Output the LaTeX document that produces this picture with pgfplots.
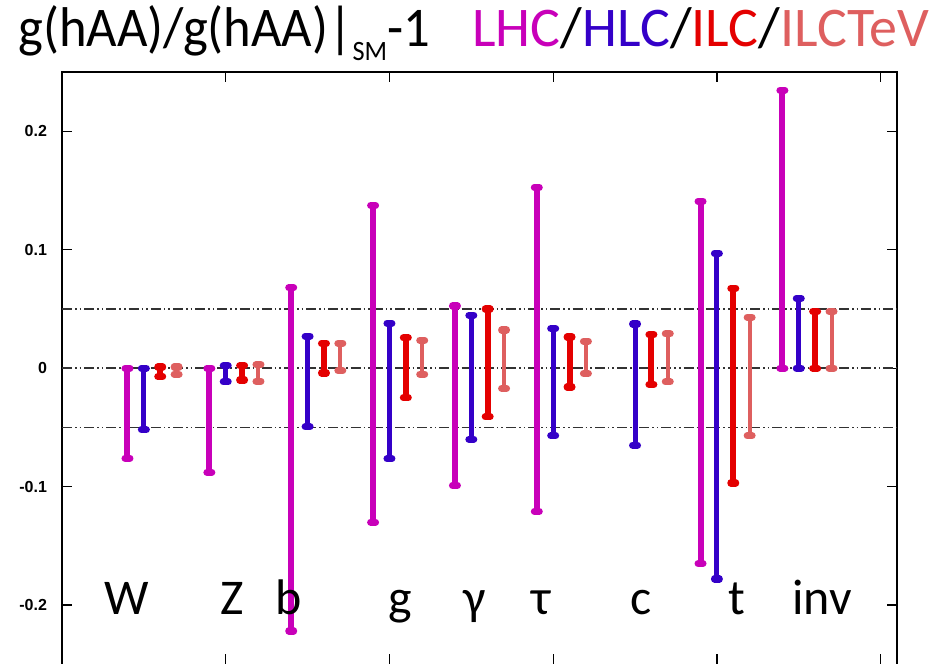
\documentclass[border=0pt]{standalone}
\usepackage{fontspec}
\setmainfont{Liberation Sans}
\newfontfamily\carl{Carlito}
\usepackage{pgfplots}
\pgfplotsset{compat=1.18}
\definecolor{clhc}{RGB}{200,0,185}
\definecolor{chlc}{RGB}{52,0,200}
\definecolor{cilc}{RGB}{228,0,0}
\definecolor{ctev}{RGB}{222,95,95}
\definecolor{cref}{RGB}{50,50,50}
\pgfplotsset{errbar/.style 2 args={color=#1, line width=#2, mark=-, mark size=1.2pt, mark options={solid, line width=3.6pt, line cap=round}}}
\begin{document}
\begin{tikzpicture}
\begin{axis}[
  at={(0,0)}, anchor=south west, scale only axis,
  width=417.5pt, height=296pt,
  xmin=0, xmax=5.1, ymin=-0.25, ymax=0.25,
  xtick={1,2,3,4,5}, xticklabels={},
  ytick={-0.2,-0.1,0,0.1,0.2}, yticklabels={-0.2,-0.1,0,0.1,0.2},
  tick align=inside, major tick length=5pt,
  tick style={black, line width=0.6pt},
  axis line style={black, line width=0.7pt},
  yticklabel style={font=\bfseries\fontsize{8}{9}\selectfont, xshift=-4pt},
  unbounded coords=jump,
  clip=false,
]
% reference lines
\addplot[cref, line width=0.8pt, dash pattern=on 5pt off 1.5pt on 0.8pt off 1.5pt on 0.8pt off 1.5pt, forget plot] coordinates {(0,0.05) (5.1,0.05)};
\addplot[cref, line width=0.8pt, dash pattern=on 5pt off 1.5pt on 0.8pt off 1.5pt on 0.8pt off 1.5pt, forget plot] coordinates {(0,0) (5.1,0)};
\addplot[cref, line width=0.8pt, dash pattern=on 5pt off 1.5pt on 0.8pt off 1.5pt on 0.8pt off 1.5pt, forget plot] coordinates {(0,-0.05) (5.1,-0.05)};
% LHC
\addplot[errbar={clhc}{3pt}] coordinates {
 (0.4,-0.076) (0.4,0) (0.4,nan)
 (0.9,-0.088) (0.9,0) (0.9,nan)
 (1.4,-0.222) (1.4,0.068) (1.4,nan)
 (1.9,-0.130) (1.9,0.1375) (1.9,nan)
 (2.4,-0.099) (2.4,0.0526) (2.4,nan)
 (2.9,-0.121) (2.9,0.1527) (2.9,nan)
 (3.9,-0.165) (3.9,0.141) (3.9,nan)
 (4.4,0) (4.4,0.2348)
};
% HLC
\addplot[errbar={chlc}{2.5pt}] coordinates {
 (0.5,-0.052) (0.5,0) (0.5,nan)
 (1.0,-0.0115) (1.0,0.002) (1.0,nan)
 (1.5,-0.0495) (1.5,0.027) (1.5,nan)
 (2.0,-0.0765) (2.0,0.038) (2.0,nan)
 (2.5,-0.060) (2.5,0.0447) (2.5,nan)
 (3.0,-0.057) (3.0,0.0335) (3.0,nan)
 (3.5,-0.065) (3.5,0.0374) (3.5,nan)
 (4.0,-0.178) (4.0,0.097) (4.0,nan)
 (4.5,0) (4.5,0.059)
};
% ILC
\addplot[errbar={cilc}{3pt}] coordinates {
 (0.6,-0.007) (0.6,0.001) (0.6,nan)
 (1.1,-0.010) (1.1,0.002) (1.1,nan)
 (1.6,-0.004) (1.6,0.021) (1.6,nan)
 (2.1,-0.025) (2.1,0.0256) (2.1,nan)
 (2.6,-0.041) (2.6,0.050) (2.6,nan)
 (3.1,-0.0158) (3.1,0.0264) (3.1,nan)
 (3.6,-0.0138) (3.6,0.0284) (3.6,nan)
 (4.1,-0.097) (4.1,0.0675) (4.1,nan)
 (4.6,0) (4.6,0.048)
};
% ILCTeV
\addplot[errbar={ctev}{2pt}] coordinates {
 (0.7,-0.005) (0.7,0.001) (0.7,nan)
 (1.2,-0.011) (1.2,0.003) (1.2,nan)
 (1.7,-0.002) (1.7,0.021) (1.7,nan)
 (2.2,-0.005) (2.2,0.0236) (2.2,nan)
 (2.7,-0.017) (2.7,0.0323) (2.7,nan)
 (3.2,-0.0045) (3.2,0.0228) (3.2,nan)
 (3.7,-0.0115) (3.7,0.029) (3.7,nan)
 (4.2,-0.057) (4.2,0.043) (4.2,nan)
 (4.7,0) (4.7,0.048)
};
% category labels
\begin{scope}[every node/.style={font=\carl\fontsize{25}{25}\selectfont, anchor=base, inner sep=0pt}]
\node at (axis cs:0.397,-0.208) {W};
\node at (axis cs:1.038,-0.208) {Z};
\node at (axis cs:1.386,-0.208) {b};
\node at (axis cs:2.064,-0.208) {g};
\node at (axis cs:2.522,-0.208) {γ};
\node at (axis cs:2.926,-0.208) {τ};
\node at (axis cs:3.536,-0.208) {c};
\node at (axis cs:4.123,-0.208) {t};
\node at (axis cs:4.642,-0.208) {inv};
\end{scope}
\end{axis}
\node[anchor=base west, inner sep=0pt, font=\carl\fontsize{28}{28}\selectfont] at (-22pt,309pt) {\scalebox{0.94}[1]{g(hAA)/g(hAA)|\raisebox{-0.25em}{\fontsize{14}{14}\selectfont SM}-1}};
\node[anchor=base west, inner sep=0pt, font=\carl\fontsize{28}{28}\selectfont] at (205pt,309pt) {\textcolor{clhc}{LHC}/\textcolor{chlc}{HLC}/\textcolor{cilc}{ILC}/\textcolor{ctev}{ILCTeV}};
\pgfresetboundingbox
\path[use as bounding box] (-31pt,0.6pt) rectangle (444.5pt,332.1pt);
\end{tikzpicture}
\end{document}
